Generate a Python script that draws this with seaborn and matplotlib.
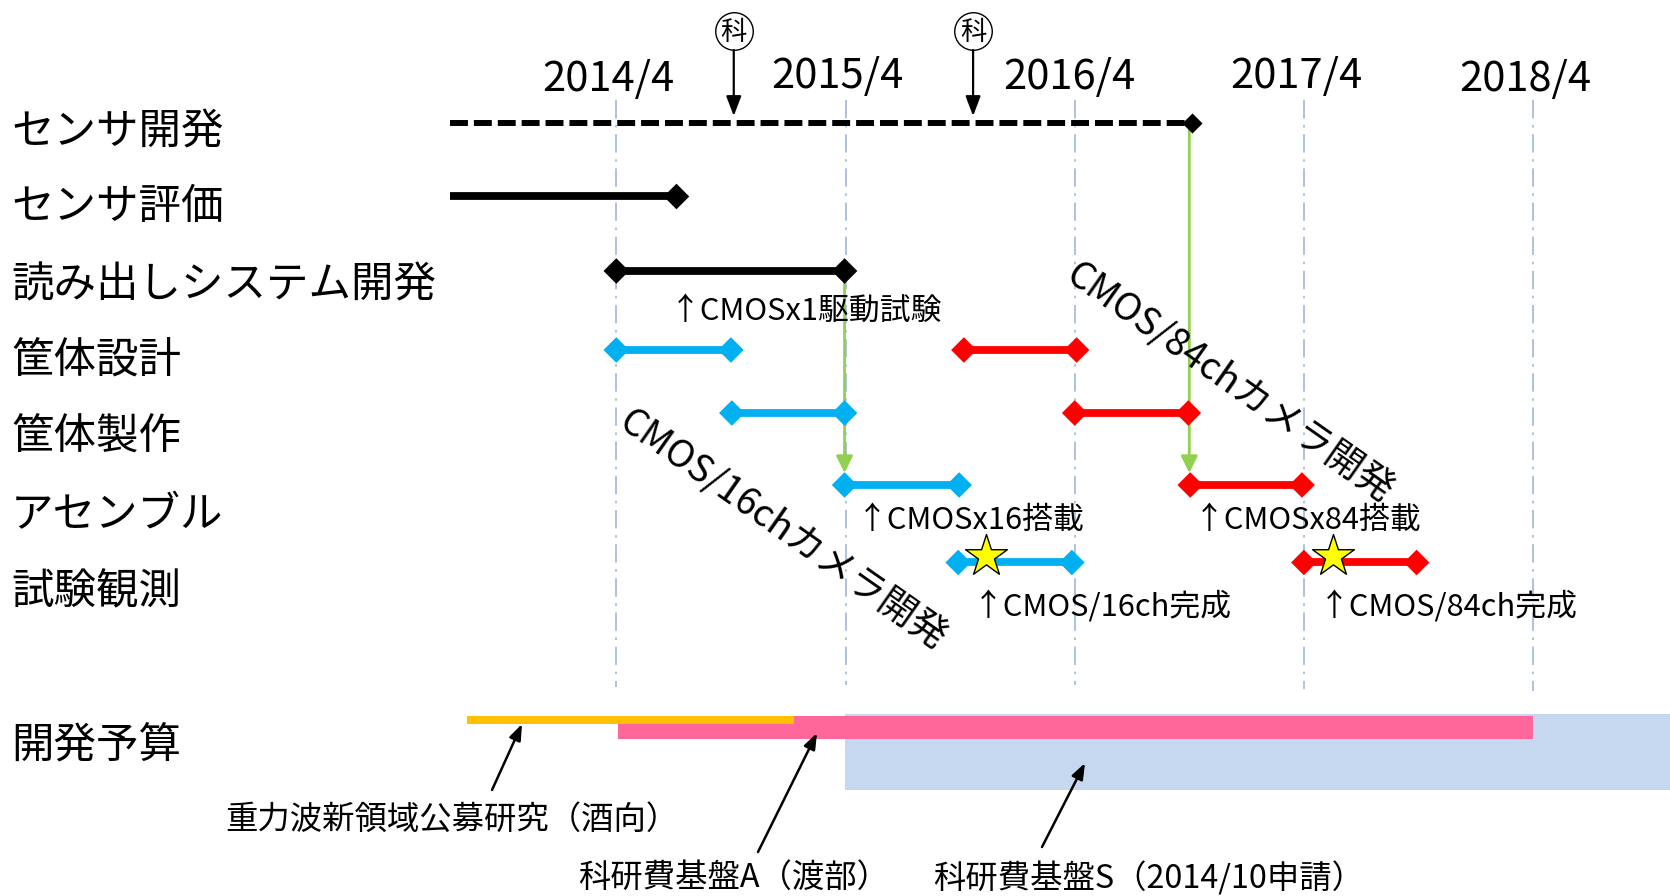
import matplotlib
matplotlib.use("Agg")
import matplotlib.pyplot as plt
from matplotlib.transforms import Affine2D
import pandas as pd
import seaborn as sns

sns.set_theme(style="white")
plt.rcParams['font.family'] = ['Noto Sans CJK JP', 'DejaVu Sans']

# ---- data (months counted from 2014/4) ----
tasks = ["センサ開発", "センサ評価", "読み出しシステム開発", "筐体設計", "筐体製作", "アセンブル", "試験観測"]
year_labels = ["2014/4", "2015/4", "2016/4", "2017/4", "2018/4"]
year_months = [0, 12, 24, 36, 48]

seg_task = ["センサ評価", "読み出しシステム開発",
            "筐体設計", "筐体製作", "アセンブル", "試験観測",
            "筐体設計", "筐体製作", "アセンブル", "試験観測"]
seg_phase = ["base", "base", "c16", "c16", "c16", "c16", "c84", "c84", "c84", "c84"]
seg_start = [-8.7, 0, 0, 6.05, 11.95, 17.9, 18.2, 24, 30.05, 36]
seg_end = [3.15, 11.95, 6.0, 11.95, 17.95, 23.85, 24.1, 29.95, 35.9, 41.9]
seg_start_marker = [False, True, True, True, True, True, True, True, True, True]

dev_start, dev_end = -8.7, 30.15
kaken_months = [6.15, 18.68]
star_months = [19.33, 37.5]
star_task = ["試験観測", "試験観測"]
green_months = [11.95, 30]

budget_names = ["科研費基盤S", "科研費基盤A", "重力波新領域"]
budget_start = [11.95, 0.1, -7.8]
budget_end = [55.2, 48, 9.3]

# ---- layout ----
W, H = 1670, 896
PPM = 19.1
X0 = 616.3
row_y = dict(zip(tasks, [123.5, 196.5, 271, 350, 413, 485, 562.5]))
label_y = [132, 207, 285, 362, 438, 515, 592]
budget_y = [(714, 790), (716, 739), (716, 724)]
budget_colors = ["#C5D8F0", "#FF6699", "#FFC000"]
colors = {"base": "#000000", "c16": "#00B0F0", "c84": "#FF0000"}
grid_bottom = [687, 685, 685, 689, 691]

fig = plt.figure(figsize=(W / 100, H / 100), dpi=100)
ax = fig.add_axes([0, 0, 1, 1])
ax.set_xlim(-X0 / PPM, (W - X0) / PPM)
ax.set_ylim(H, 0)
ax.axis("off")
PX = Affine2D().scale(1, -1).translate(0, H)

# budget bars
for (top, bot), a, b, c in zip(budget_y, budget_start, budget_end, budget_colors):
    ax.barh((top + bot) / 2, b - a, left=a, height=bot - top, color=c, linewidth=0, zorder=1)

# year grid
for m, bot in zip(year_months, grid_bottom):
    sns.lineplot(x=[m, m], y=[100, bot], ax=ax, color="#9DB7DC", lw=1.2, estimator=None, sort=False,
                 linestyle=(0, (11, 4, 1.5, 4)), zorder=1, legend=False)

# green connectors
for m in green_months:
    y0 = row_y["読み出しシステム開発"] if m < 20 else row_y["センサ開発"]
    ax.annotate("", xy=(m, 473), xytext=(m, y0),
                arrowprops=dict(arrowstyle="-|>,head_width=0.42,head_length=0.85", color="#92D050",
                                lw=2, shrinkA=0, shrinkB=0), zorder=2)

# task segments
df = pd.DataFrame({"month": seg_start + seg_end,
                   "y": [row_y[t] for t in seg_task] * 2,
                   "phase": seg_phase * 2,
                   "seg": list(range(len(seg_task))) * 2})
sns.lineplot(data=df, x="month", y="y", hue="phase", palette=colors, units="seg", estimator=None,
             lw=5.6, solid_capstyle="butt", legend=False, ax=ax, zorder=3)

# development line
sns.lineplot(x=[dev_start, dev_end], y=[row_y["センサ開発"]] * 2, ax=ax, color="black", lw=4.3,
             linestyle=(0, (3, 1)), dash_capstyle="butt", legend=False, zorder=3)

# diamonds
mk = pd.DataFrame({
    "month": [s for s, f in zip(seg_start, seg_start_marker) if f] + seg_end,
    "y": [row_y[t] for t, f in zip(seg_task, seg_start_marker) if f] + [row_y[t] for t in seg_task],
    "phase": [p for p, f in zip(seg_phase, seg_start_marker) if f] + seg_phase})
sns.scatterplot(data=mk, x="month", y="y", hue="phase", palette=colors, marker="D", s=170,
                linewidth=0, legend=False, ax=ax, zorder=4)
sns.scatterplot(x=[dev_end], y=[row_y["センサ開発"]], color="black", marker="D", s=105,
                linewidth=0, legend=False, ax=ax, zorder=4)

# stars
sns.scatterplot(x=star_months, y=[row_y[t] - 6 for t in star_task], color="#FFFF00", marker="*", s=1000,
                edgecolor="black", linewidth=1, legend=False, ax=ax, zorder=5)

# kaken marks
sns.scatterplot(x=kaken_months, y=[31, 31], color="white", marker="o", s=730,
                edgecolor="black", linewidth=1, legend=False, ax=ax, zorder=5)
for m in kaken_months:
    ax.text(m, 33, "科", fontsize=19, ha="center", va="center", color="black", zorder=6)
    ax.annotate("", xy=(m, 116), xytext=(m, 50),
                arrowprops=dict(arrowstyle="-|>,head_width=0.38,head_length=1.0", color="black",
                                lw=1.6, shrinkA=0, shrinkB=0), zorder=5)

# left labels
for t, y in zip(tasks, label_y):
    ax.text(11, y, t, transform=PX, fontsize=30.6, ha="left", va="center", color="black")
ax.text(11, 745, "開発予算", transform=PX, fontsize=30.6, ha="left", va="center", color="black")

# year labels
for t, (x, y) in zip(year_labels, [(608, 79), (837, 76), (1069, 77), (1296, 76), (1525, 79)]):
    ax.text(x, y, t, transform=PX, fontsize=30, ha="center", va="center", color="black")

# notes
notes = [("↑CMOSx1駆動試験", 670, 311, 22.2), ("↑CMOSx16搭載", 857, 520, 22.2), ("↑CMOSx84搭載", 1194, 520, 22.2),
         ("↑CMOS/16ch完成", 973, 607, 22.2), ("↑CMOS/84ch完成", 1319, 607, 22.2),
         ("重力波新領域公募研究（酒向）", 225, 820, 23.3), ("科研費基盤A（渡部）", 578, 878, 23.3),
         ("科研費基盤S（2014/10申請）", 933, 878, 23.3)]
for t, x, y, fs in notes:
    ax.text(x, y, t, transform=PX, fontsize=fs, ha="left", va="center", color="black")

# rotated labels
ax.text(1229, 384, "CMOS/84chカメラ開発", transform=PX, fontsize=27, rotation=-35, rotation_mode="anchor",
        ha="center", va="center", color="black")
ax.text(782, 531, "CMOS/16chカメラ開発", transform=PX, fontsize=27, rotation=-35, rotation_mode="anchor",
        ha="center", va="center", color="black")

# budget arrows
for tail, tip in [((492, 790), (522, 724)), ((758, 852), (817, 733)), ((1042, 847), (1085, 763))]:
    ax.annotate("", xy=tip, xytext=tail, xycoords=PX, textcoords=PX,
                arrowprops=dict(arrowstyle="-|>,head_width=0.3,head_length=0.8", color="black",
                                lw=1.8, shrinkA=0, shrinkB=0), zorder=5)

fig.savefig("out.png", dpi=100, facecolor="white")
